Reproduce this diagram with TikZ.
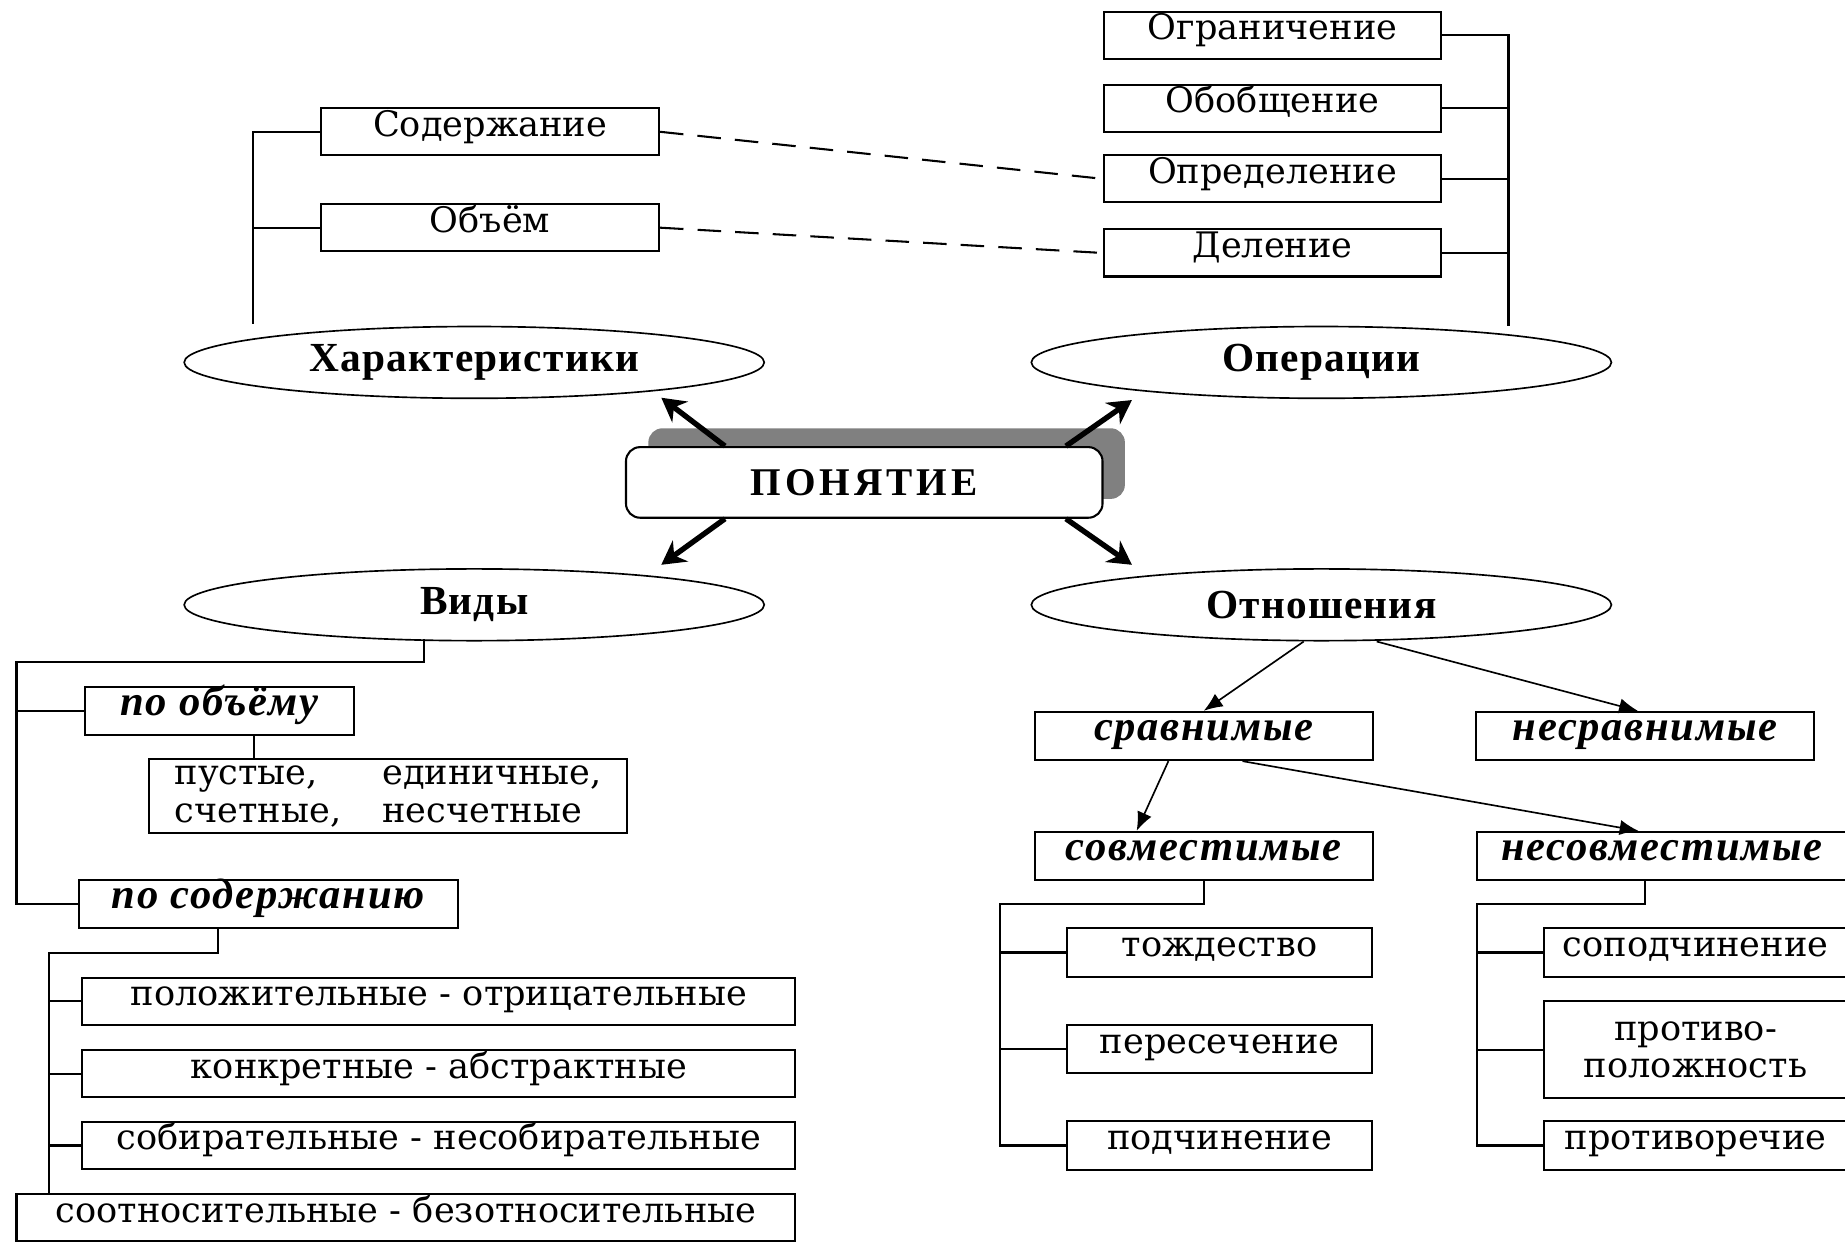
\documentclass[tikz,border=0pt]{standalone}
\usepackage{fontspec}
\newfontfamily\boxfont{DejaVu Serif}
\newfontfamily\headfont{Liberation Serif}
\usetikzlibrary{shapes.geometric,shadows,arrows.meta}

\begin{document}
\begin{tikzpicture}[x=0.1mm,y=-0.1mm,
    box/.style={draw,line width=0.5pt,inner sep=0pt,minimum height=4mm,
      text height=1.5ex,text depth=1ex,font=\boxfont\fontsize{8.5}{9}\selectfont},
    kind/.style={box,minimum height=4.1mm,
      font=\headfont\bfseries\itshape\fontsize{10.3}{12}\selectfont\addfontfeature{LetterSpace=4}},
    oval/.style={ellipse,draw,line width=0.4pt,inner sep=0pt,
      minimum width=49.3mm,minimum height=6.1mm,
      font=\headfont\bfseries\fontsize{10}{12}\selectfont\addfontfeature{LetterSpace=3}},
    concept/.style={draw,fill=white,rounded corners=1.2mm,line width=0.5pt,inner sep=0pt,
      minimum width=40.5mm,minimum height=6mm,
      font=\headfont\bfseries\fontsize{9.5}{11}\selectfont\addfontfeature{LetterSpace=10},
      drop shadow={shadow xshift=1.9mm,shadow yshift=1.6mm,fill=black!50,opacity=1}},
    link/.style={line width=0.5pt},
    dashlink/.style={line width=0.5pt,dash pattern=on 2mm off 1.2mm},
    bigarrow/.style={line width=1.3pt,-{Stealth[length=2mm,width=2.2mm]}},
    smallarrow/.style={line width=0.4pt,-{Latex[length=1.6mm,width=1.3mm]}}]
  \useasboundingbox (0,0) rectangle (1568,1056);

  % operations
  \node[box,minimum width=28.7mm] (ogr) at (1081.5,30) {Ограничение};
  \node[box,minimum width=28.7mm] (obob) at (1081.5,92) {Обобщение};
  \node[box,minimum width=28.7mm] (opr) at (1081.5,152) {Определение};
  \node[box,minimum width=28.7mm] (del) at (1081.5,215) {Деление};
  % characteristics
  \node[box,minimum width=28.7mm] (sod) at (416.5,112) {Содержание};
  \node[box,minimum width=28.7mm] (obm) at (416.5,193.5) {Объём};

  \node[oval] (har) at (403,308) {Характеристики};
  \node[oval] (oper) at (1123,308) {Операции};
  \node[oval] (vid) at (403,514) {Виды};
  \node[oval] (otn) at (1123,514) {Отношения};

  \node[concept] (pon) at (734.5,410) {ПОНЯТИЕ};

  \coordinate (tl) at (562,338);
  \coordinate (tr) at (962,340);
  \coordinate (bl) at (562,480);
  \coordinate (br) at (962,480);
  \draw[bigarrow] ([xshift=8.5mm]pon.north west) -- (tl);
  \draw[bigarrow] ([xshift=-3.2mm]pon.north east) -- (tr);
  \draw[bigarrow] ([xshift=8.5mm]pon.south west) -- (bl);
  \draw[bigarrow] ([xshift=-3.2mm]pon.south east) -- (br);

  \coordinate (hsp) at (215,275);
  \draw[link] (hsp) |- (sod.west);
  \draw[link] (hsp |- obm.west) -- (obm.west);
  \coordinate (osp) at (1282,277);
  \draw[link] (osp) |- (ogr.east);
  \foreach \n in {obob,opr,del}
    \draw[link] (osp |- \n.east) -- (\n.east);
  \draw[dashlink] (sod.east) -- (opr.west);
  \draw[dashlink] (obm.east) -- (del.west);

  % kinds
  \node[kind,minimum width=22.9mm] (poo) at (186.5,604) {по объёму};
  \node[box,minimum width=40.6mm,minimum height=6.2mm,text height=,text depth=] (pust)
    at (330,676.5) {\begin{tabular}{@{}l@{\hspace{3.5mm}}l@{}}пустые, & единичные,\\ счетные, & несчетные\end{tabular}};
  \node[kind,minimum width=32.2mm] (pod) at (228,768) {по содержанию};
  \node[box,minimum width=60.6mm] (pol) at (373,851) {положительные - отрицательные};
  \node[box,minimum width=60.6mm] (kon) at (373,912.5) {конкретные - абстрактные};
  \node[box,minimum width=60.6mm] (sob) at (373,973.5) {собирательные - несобирательные};
  \node[box,minimum width=66.2mm] (soot) at (345,1035) {соотносительные - безотносительные};

  \coordinate (vfoot) at (360,543);
  \coordinate (vsp) at (14,563);
  \draw[link] (vfoot) |- (vsp) |- (pod.west);
  \draw[link] (vsp |- poo.west) -- (poo.west);
  \coordinate (poofoot) at (216,625);
  \draw[link] (poofoot) -- (poofoot |- pust.north);
  \coordinate (podfoot) at (185,789);
  \coordinate (psp) at (42,810);
  \draw[link] (podfoot) |- (psp) -- (psp |- soot.north);
  \foreach \n in {pol,kon,sob}
    \draw[link] (psp |- \n.west) -- (\n.west);

  % relations
  \node[kind,minimum width=28.7mm] (srav) at (1023,625.5) {сравнимые};
  \node[kind,minimum width=28.7mm] (nesr) at (1398,625.5) {несравнимые};
  \node[kind,minimum width=28.7mm] (sovm) at (1023,727.5) {совместимые};
  \node[kind,minimum width=31.5mm] (nesov) at (1412.5,727.5) {несовместимые};
  \node[box,minimum width=25.9mm,minimum height=4.1mm] (tozh) at (1036.5,809.5) {тождество};
  \node[box,minimum width=25.9mm,minimum height=4.1mm] (peres) at (1036.5,891.5) {пересечение};
  \node[box,minimum width=25.9mm,minimum height=4.1mm] (podch) at (1036.5,973.5) {подчинение};
  \node[box,minimum width=25.8mm,minimum height=4.1mm] (sopod) at (1441,809.5) {соподчинение};
  \node[box,minimum width=25.8mm,minimum height=8.2mm,align=center,text height=,text depth=] (protiv)
    at (1441,892) {противо-\\положность};
  \node[box,minimum width=25.8mm,minimum height=4.1mm] (protivor) at (1441,973.5) {противоречие};

  \draw[smallarrow] ([xshift=-1.5mm]otn.south) -- (srav.north);
  \draw[smallarrow] ([xshift=4.7mm]otn.south) -- ([xshift=-0.6mm]nesr.north);
  \draw[smallarrow] ([xshift=-3mm]srav.south) -- ([xshift=-5.7mm]sovm.north);
  \draw[smallarrow] ([xshift=3.3mm]srav.south) -- ([xshift=-2mm]nesov.north);

  \coordinate (ssp) at (850,768);
  \draw[link] (sovm.south) |- (ssp) |- (podch.west);
  \draw[link] (ssp |- tozh.west) -- (tozh.west);
  \draw[link] (ssp |- peres.west) -- (peres.west);
  \coordinate (nsp) at (1255,768);
  \draw[link] ([xshift=-1.45mm]nesov.south) |- (nsp) |- (protivor.west);
  \draw[link] (nsp |- sopod.west) -- (sopod.west);
  \draw[link] (nsp |- protiv.west) -- (protiv.west);
\end{tikzpicture}
\end{document}
